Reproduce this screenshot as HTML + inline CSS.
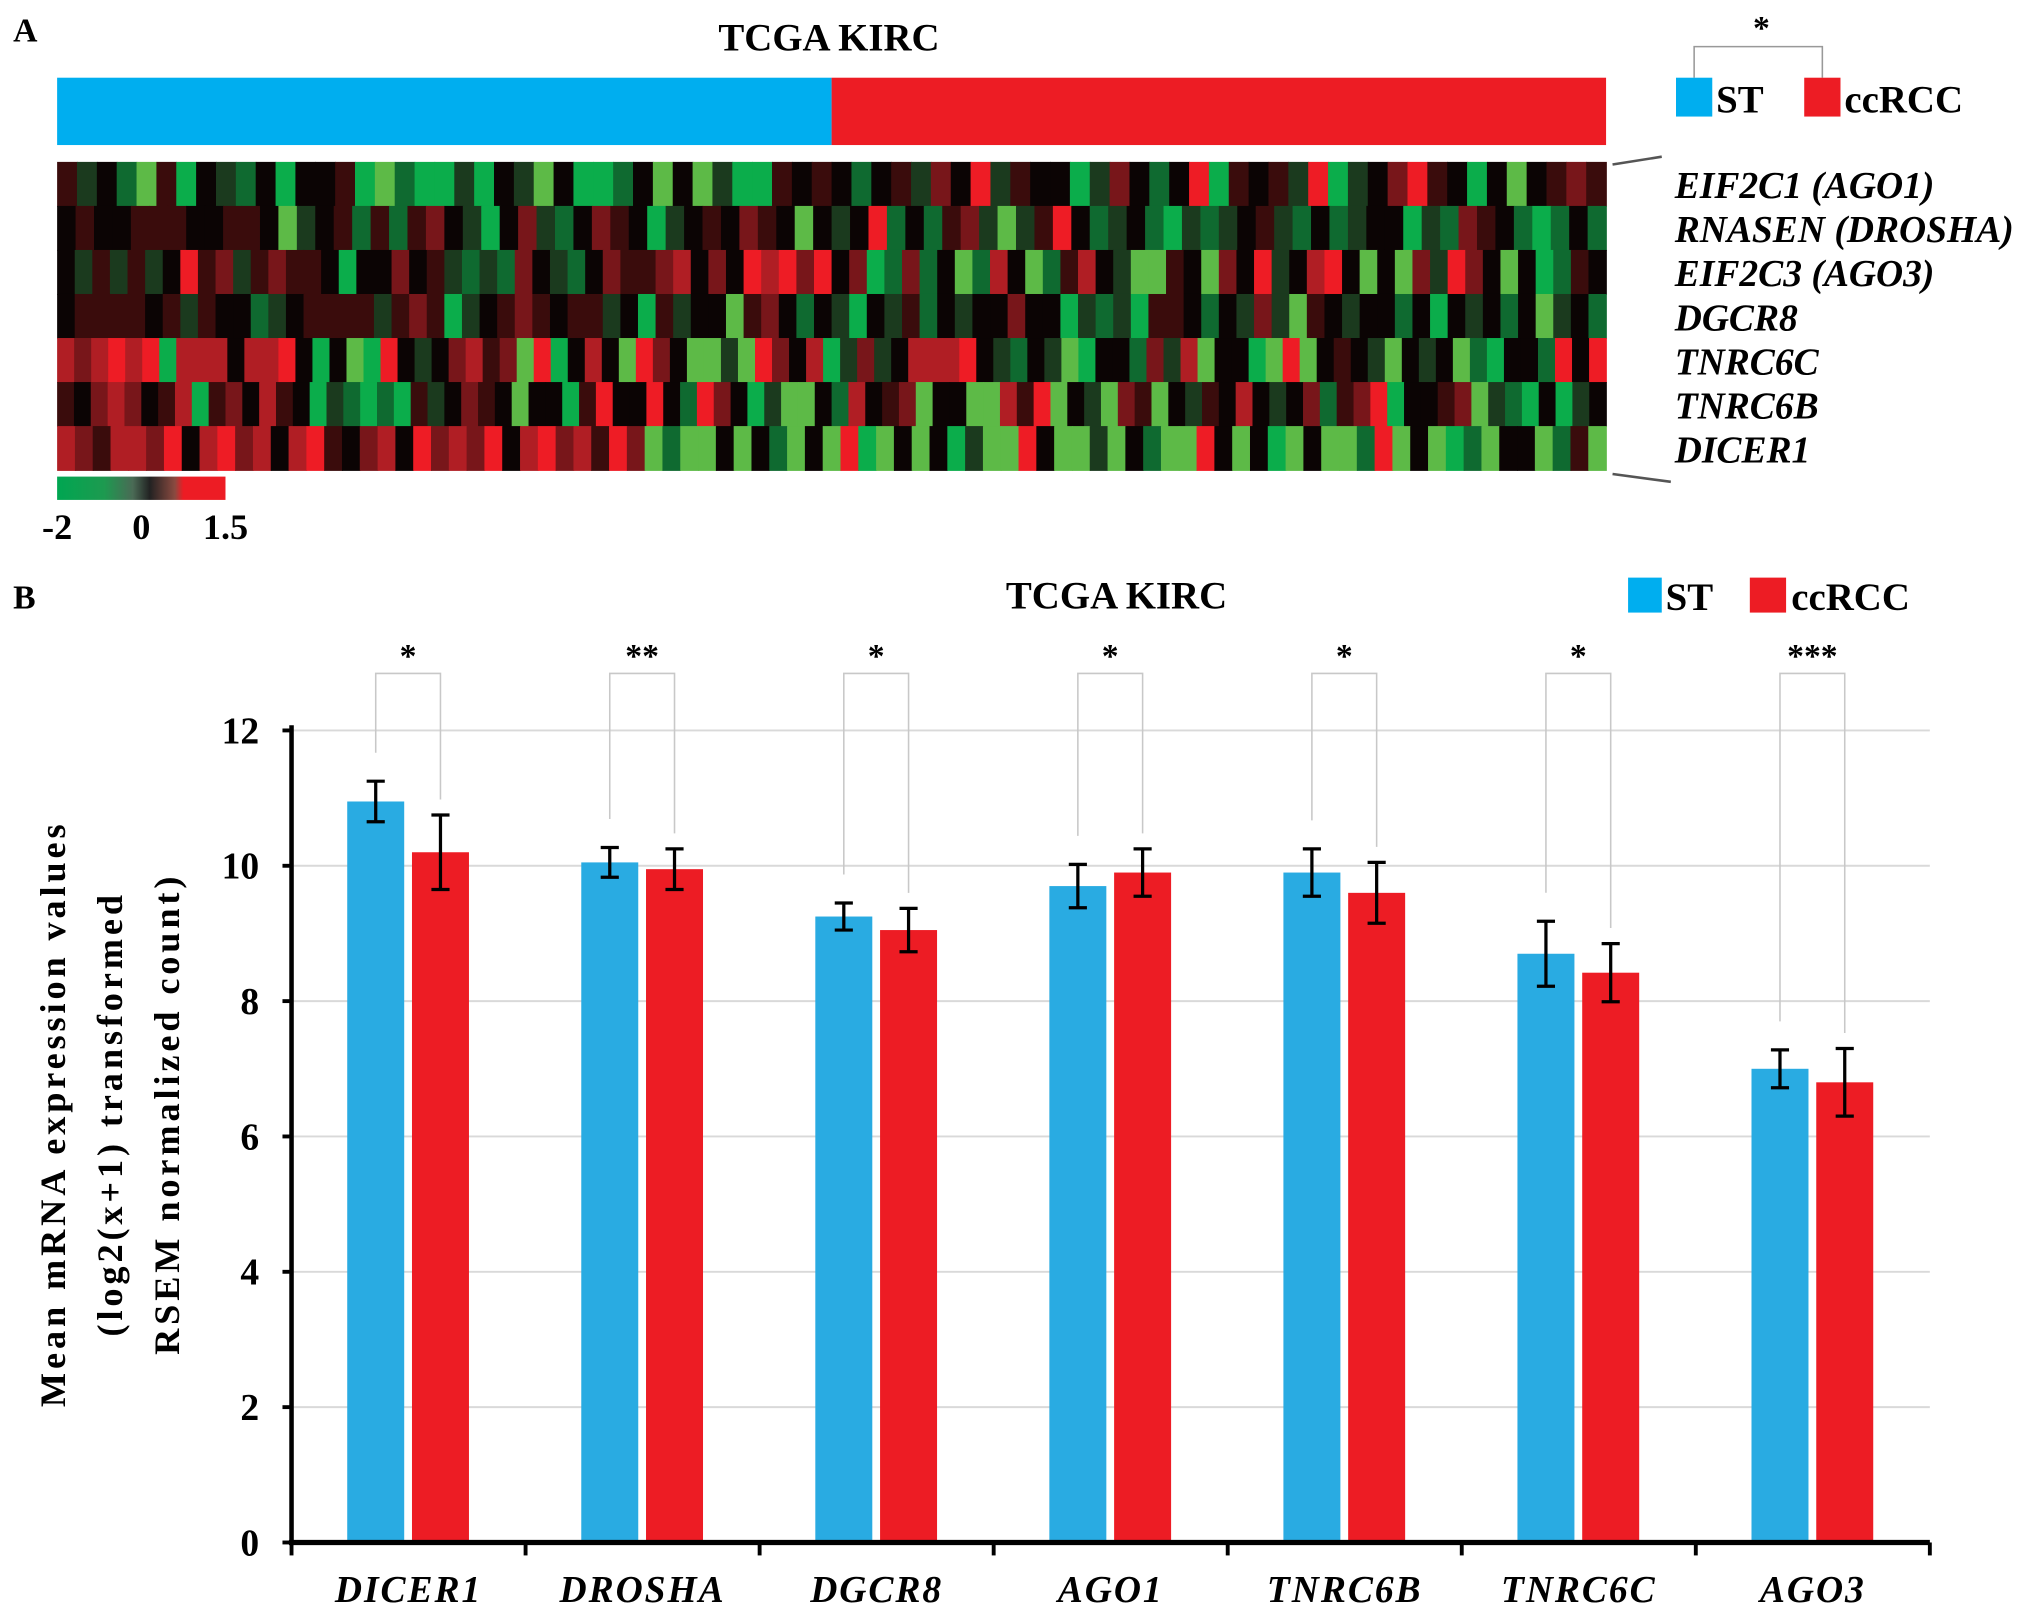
<!DOCTYPE html>
<html><head><meta charset="utf-8"><style>
html,body{margin:0;padding:0;background:#fff;}
svg{display:block;font-family:"Liberation Serif","Times New Roman",serif;}
</style></head><body>
<svg id="fig" width="2031" height="1615" viewBox="0 0 1568 1247" xmlns="http://www.w3.org/2000/svg">
<rect x="0" y="0" width="1568" height="1247" fill="#fff"/>
<g>
<text x="10" y="32" font-size="26" font-weight="bold">A</text>
<text x="640" y="39" font-size="30" font-weight="bold" text-anchor="middle">TCGA KIRC</text>
<rect x="44" y="60" width="598" height="52" fill="#00aeef"/>
<rect x="642" y="60" width="598" height="52" fill="#ed1c24"/>
<g id="heat"></g>
<path d="M1245,127 L1283,121 M1245,366 L1290,372" stroke="#555" stroke-width="2" fill="none"/>
<g id="heatlabels"></g>
<path d="M1308,60 L1308,36 L1407,36 L1407,60" stroke="#999" stroke-width="1.2" fill="none"/>
<text x="1360" y="30" font-size="26" font-weight="bold" text-anchor="middle">*</text>
<rect x="1294" y="60" width="28" height="30" fill="#00aeef"/>
<text x="1325" y="87" font-size="30" font-weight="bold">ST</text>
<rect x="1393" y="60" width="28" height="30" fill="#ed1c24"/>
<text x="1424" y="87" font-size="30" font-weight="bold">ccRCC</text>
<defs><linearGradient id="cb" x1="0" x2="1" y1="0" y2="0">
<stop offset="0" stop-color="#00a651"/><stop offset="0.28" stop-color="#1d9a50"/><stop offset="0.45" stop-color="#4a6a55"/><stop offset="0.55" stop-color="#222"/><stop offset="0.7" stop-color="#8a4a40"/><stop offset="0.75" stop-color="#ed1c24"/><stop offset="1" stop-color="#ed1c24"/></linearGradient></defs>
<rect x="44" y="368" width="130" height="18" fill="url(#cb)"/>
<text x="44" y="416" font-size="28" font-weight="bold" text-anchor="middle">-2</text>
<text x="109" y="416" font-size="28" font-weight="bold" text-anchor="middle">0</text>
<text x="174" y="416" font-size="28" font-weight="bold" text-anchor="middle">1.5</text>
</g>
<g>
<text x="10" y="470" font-size="26" font-weight="bold">B</text>
<text x="862" y="470" font-size="30" font-weight="bold" text-anchor="middle">TCGA KIRC</text>
<rect x="1257" y="446" width="26" height="27" fill="#00aeef"/>
<text x="1286" y="471" font-size="30" font-weight="bold">ST</text>
<rect x="1351" y="446" width="28" height="27" fill="#ed1c24"/>
<text x="1383" y="471" font-size="30" font-weight="bold">ccRCC</text>
<g id="chart"></g>
<text transform="translate(0,860) rotate(-90)" font-size="28" font-weight="bold" text-anchor="middle" letter-spacing="3"><tspan x="0" y="50">Mean mRNA expression values</tspan><tspan x="0" y="94">(log2(x+1) transformed</tspan><tspan x="0" y="138">RSEM normalized count)</tspan></text>
</g>
</svg>
<script>
const NS = "http://www.w3.org/2000/svg";
// ---- heatmap data (codes decoded to values) ----
const heatGenes = ["EIF2C1 (AGO1)","RNASEN (DROSHA)","EIF2C3 (AGO3)","DGCR8","TNRC6C","TNRC6B","DICER1"];
const codeValues = {G:-2,H:-1.7,g:-1,d:-0.5,k:0,r:0.5,m:0.9,R:1.2,X:1.5};
const rowAGO1   = "rdkgGrHkdgkHkkrHGgHHdHkdGkHHgkGkGdHHrkrkgkrdmkXdrkkHdmkgkXHrkrdXHdkmXrkHkGkrmr";
const rowDROSHA = "krkkrrrkkrrkGdkrgrgrmkdHkmdgkmrkHdkrkmrkGkdkXgkgrmdGdrXkgdkgHdgdkrdgkgdkkHdgmrkgHgkg";
const rowAGO3   = "kdrdrdkXrmdrmrrkHkkmkrdgdgmkdgkmrrmRkmkXRXmXkmHgmgkGgRkGgrRkdGGrkGmkXdkRXkGkGmdXmkGkHgrk";
const rowDGCR8  = "krrrrkrdrkkgdkrrrrdrmrHdkrmrkrrdkHrdkkGrmkgkdHkdrgkdkkmkkHdgdHrrkgkdmdGrkdkkgkHkdkgkGdkg";
const rowTNRC6C = "RmRXRXHRRRkRRXkHkGHXkdkmRrmGXHkRkGXmkGGdGXmkRHdmdkRRRXkdgkdGHkkgmdRGkkHGXGkrkdGkdkGgHkkgXkX";
const rowTNRC6B = "rkmRmkrRHrmkRrkHdgHgHrdkmrkGkkHrXkkXkgXmkHdGGkgRkrmGkkGGRrXGkdGmrGkdrkRkdkmgrmXHkkrmGdgHkHdk";
const rowDICER1 = "RmrRRmXkRXmRkRXrkmRkXmRmXkRXmRrXmGgGGkGkgGkGXHGkGkHdGGXkGGdGkgGGXkGkHGkGGgXGkGHgGkkGgrG";
const heatRows = [rowAGO1,rowDROSHA,rowAGO3,rowDGCR8,rowTNRC6C,rowTNRC6B,rowDICER1].map(s => s.split("").map(c => codeValues[c]));

// ---- bar chart data ----
const genes = ["DICER1","DROSHA","DGCR8","AGO1","TNRC6B","TNRC6C","AGO3"];
const stMeans = [10.95,10.05,9.25,9.7,9.9,8.7,7.0];
const stErr = [0.3,0.22,0.2,0.32,0.35,0.48,0.28];
const ccMeans = [10.2,9.95,9.05,9.9,9.6,8.42,6.8];
const ccErr = [0.55,0.3,0.32,0.35,0.45,0.43,0.5];
const sigLabels = ["*","**","*","*","*","*","***"];
const yTicks = [0,2,4,6,8,10,12];

function heatColor(v){
  if (v <= -1.9) return "#5dba47";
  if (v <= -1.5) return "#0bad4b";
  if (v <= -0.8) return "#0f6a30";
  if (v <= -0.3) return "#1b3a1e";
  if (v < 0.3) return "#0b0404";
  if (v < 0.7) return "#3a0c0c";
  if (v < 1.0) return "#78161a";
  if (v < 1.4) return "#b01e24";
  return "#ee1c25";
}
const heat = document.getElementById("heat");
const hx0 = 44, hx1 = 1240, hy0 = 125, hy1 = 363;
const rowH = (hy1 - hy0) / heatRows.length;
heatRows.forEach((row, ri) => {
  const cw = (hx1 - hx0) / row.length;
  row.forEach((v, ci) => {
    const r = document.createElementNS(NS, "rect");
    r.setAttribute("x", (hx0 + ci * cw).toFixed(2));
    r.setAttribute("y", (hy0 + ri * rowH).toFixed(2));
    r.setAttribute("width", (cw + 0.6).toFixed(2));
    r.setAttribute("height", (rowH + 0.6).toFixed(2));
    r.setAttribute("fill", heatColor(v));
    
    
    heat.appendChild(r);
  });
});
const hl = document.getElementById("heatlabels");
heatGenes.forEach((g, i) => {
  const t = document.createElementNS(NS, "text");
  t.setAttribute("x", 1293);
  t.setAttribute("y", (hy0 + (i + 0.5) * rowH + 11).toFixed(1));
  t.setAttribute("font-size", "29");
  t.setAttribute("font-weight", "bold");
  t.setAttribute("font-style", "italic");
  t.textContent = g;
  
  
  hl.appendChild(t);
});

// ---- bar chart ----
const chart = document.getElementById("chart");
const X0 = 225, X1 = 1490, Y0 = 1191, Ytop = 564;
const yScale = v => Y0 - (Y0 - Ytop) * v / 12;
const groupW = (X1 - X0) / genes.length;
const barW = 44;
function el(tag, attrs){ const e = document.createElementNS(NS, tag); for (const k in attrs) e.setAttribute(k, attrs[k]); chart.appendChild(e); return e; }
yTicks.forEach(v => {
  if (v > 0) {
    const gl = el("line", {x1: X0, x2: X1, y1: yScale(v), y2: yScale(v), stroke: "#d9d9d9", "stroke-width": 1.5});
    
    
  }
  const tk = el("line", {x1: X0 - 7, x2: X0, y1: yScale(v), y2: yScale(v), stroke: "#000", "stroke-width": 3});
  
  
  const t = el("text", {x: 200, y: yScale(v) + 10, "font-size": 29, "font-weight": "bold", "text-anchor": "end"});
  t.textContent = v;
  
  
});
genes.forEach((g, i) => {
  const gx = X0 + i * groupW;
  const bx = gx + 43, rx = gx + 93;
  const series = [[bx, stMeans[i], stErr[i], "#29abe2", "bar-st"], [rx, ccMeans[i], ccErr[i], "#ed1c24", "bar-ccrcc"]];
  series.forEach(([x, m, e, col, nm]) => {
    const b = el("rect", {x: x, y: yScale(m), width: barW, height: Y0 - yScale(m), fill: col});
    
    
    const cx = x + barW / 2;
    const eb = el("path", {d: `M${cx},${yScale(m+e)} L${cx},${yScale(m-e)} M${cx-7},${yScale(m+e)} L${cx+7},${yScale(m+e)} M${cx-7},${yScale(m-e)} L${cx+7},${yScale(m-e)}`, stroke: "#000", "stroke-width": 2.5, fill: "none"});
    
    
  });
  const lc = bx + barW / 2, rc = rx + barW / 2, top = 520;
  const ly = yScale(stMeans[i] + stErr[i]) - 22, ry = yScale(ccMeans[i] + ccErr[i]) - 12;
  const br = el("path", {d: `M${lc},${ly} L${lc},${top} L${rc},${top} L${rc},${ry}`, stroke: "#c8c8c8", "stroke-width": 1.2, fill: "none"});
  
  
  const s = el("text", {x: (lc + rc) / 2, y: 515, "font-size": 26, "font-weight": "bold", "text-anchor": "middle"});
  s.textContent = sigLabels[i];
  
  
  const xt = el("text", {x: gx + groupW / 2, y: 1237, "font-size": 29, "font-weight": "bold", "font-style": "italic", "text-anchor": "middle", "letter-spacing": 1.5});
  xt.textContent = g;
  
  
});
for (let i = 0; i <= genes.length; i++) {
  const t = el("line", {x1: X0 + i * groupW, x2: X0 + i * groupW, y1: Y0, y2: Y0 + 10, stroke: "#000", "stroke-width": 3});
  
  
}
const ya = el("line", {x1: X0, x2: X0, y1: Ytop - 4, y2: Y0 + 2, stroke: "#000", "stroke-width": 3.5});


const xa = el("line", {x1: X0 - 2, x2: X1, y1: Y0, y2: Y0, stroke: "#000", "stroke-width": 4});


</script>
</body></html>
